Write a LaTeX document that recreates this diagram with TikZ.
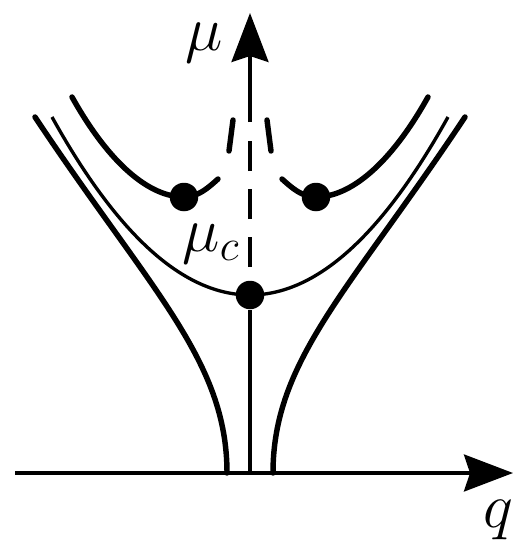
\documentclass[tikz,border=0pt]{standalone}
\usepackage{fix-cm}
\usetikzlibrary{arrows.meta}
\begin{document}
\begin{tikzpicture}[x = 0.02cm, y = -0.02cm,
		thickcurve/.style = {line width = 3.1pt, line cap = round},
		thincurve/.style = {line width = 1.9pt},
		axis/.style = {line width = 1.8pt, -{Stealth[length = 0.98cm, width = 0.74cm, inset = 0.12cm]}},
		dot/.style = {circle, fill, inner sep = 0pt, minimum size = 0.57cm},
		lbl/.style = {inner sep = 0pt, font = \fontsize{36}{43}\selectfont}]
		\useasboundingbox (0,0) rectangle (514,548);
		\coordinate (qstart) at (15,473);
		\coordinate (qend) at (513,473);
		\coordinate (origin) at (250,473);
		\coordinate (dashlow) at (250,267);
		\coordinate (dashhigh) at (250,141);
		\coordinate (sollow) at (250,122);
		\coordinate (mutop) at (250,13);
		\node [dot] (muc) at (250,295) {};
		\node [dot] (left) at (184,197) {};
		\node [dot] (right) at (316,197) {};
		\node [lbl] (mulabel) at (204,43) {$\mu$};
		\node [lbl] (muclabel) at (211,244) {$\mu_c$};
		\node [lbl] (qlabel) at (498,520) {$q$};
		% axes
		\path [draw, axis] (qstart) -- (qend);
		\path [draw, axis] (sollow) -- (mutop);
		\path [draw, thincurve] (origin) -- (muc);
		\path [draw, line width = 2.4pt, dash pattern = on 0.6cm off 0.36cm] (dashlow) -- (dashhigh);
		% outer branches
		\path [draw, thickcurve] (35,117) .. controls (150,290) and (227,360) .. (227,473);
		\path [draw, thickcurve] (465,117) .. controls (350,290) and (273,360) .. (273,473);
		% critical curve
		\path [draw, thincurve] (52,117) .. controls (118,236) and (184,295) .. (muc.center)
			.. controls (316,295) and (382,236) .. (448,117);
		% upper branches
		\path [draw, thickcurve] (72,97) .. controls (110,165) and (150,197) .. (left.center)
			.. controls (198,197) and (208,188) .. (218,179);
		\path [draw, thickcurve] (428,97) .. controls (390,165) and (350,197) .. (right.center)
			.. controls (302,197) and (292,188) .. (282,179);
		\path [draw, thickcurve] (233,120) -- (229,151);
		\path [draw, thickcurve] (267,120) -- (271,151);
	\end{tikzpicture}
\end{document}
